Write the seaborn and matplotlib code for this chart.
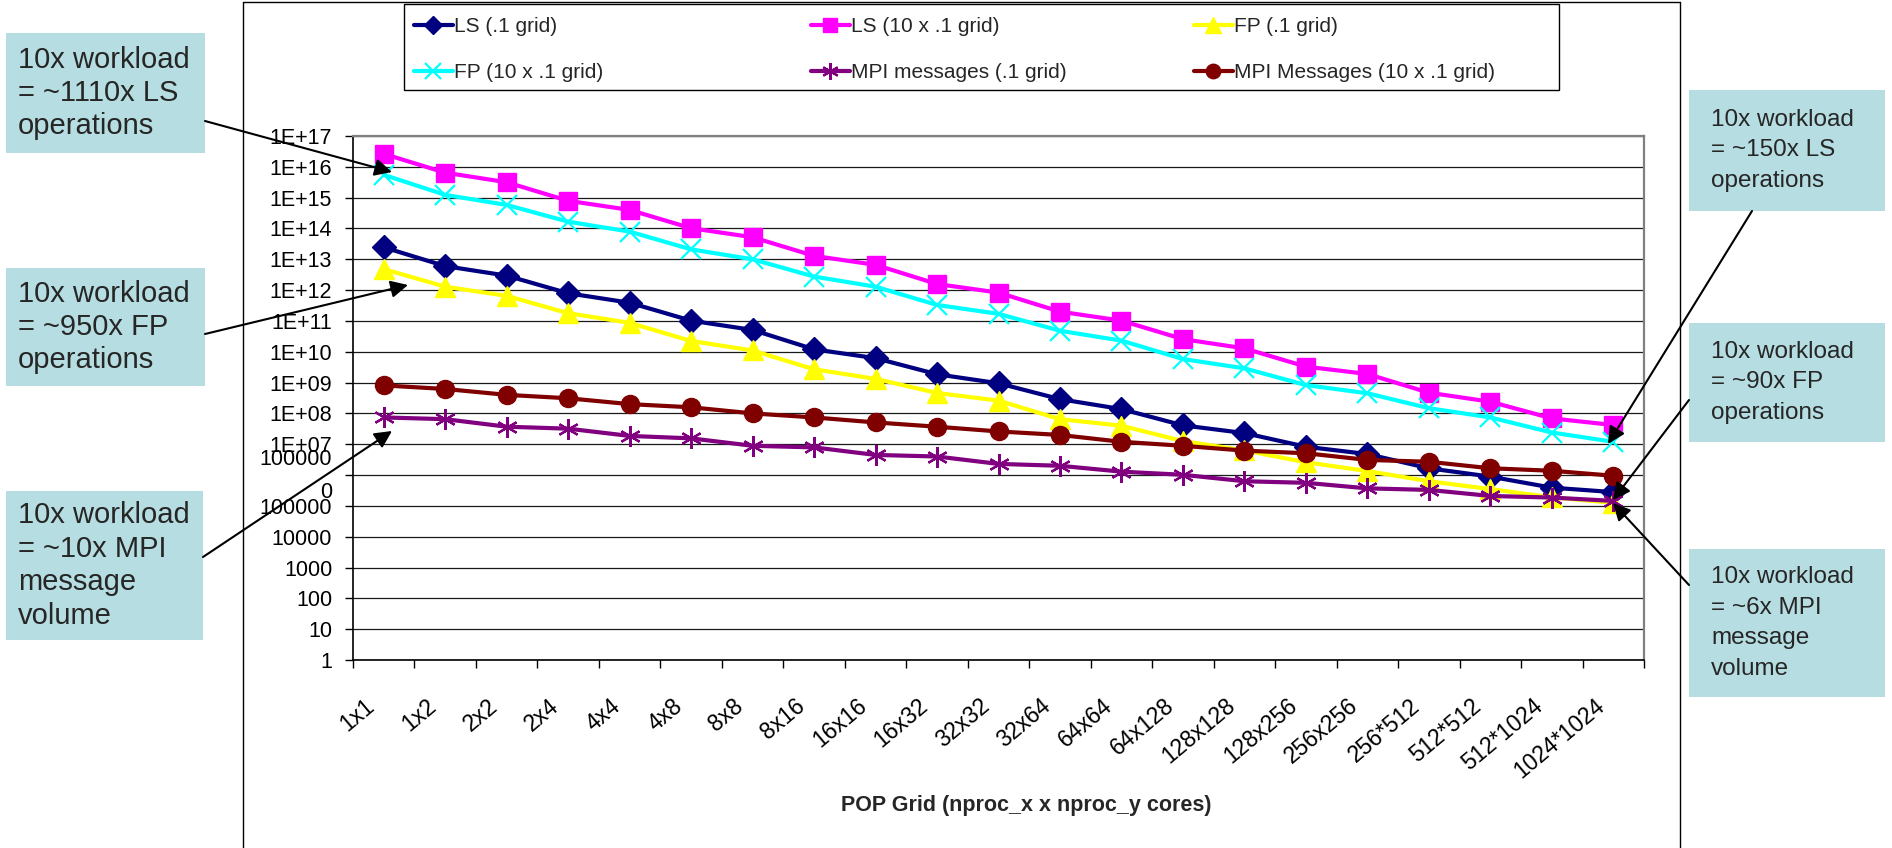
import numpy as np
import pandas as pd
import matplotlib
matplotlib.use("Agg")
import matplotlib.pyplot as plt
import matplotlib.transforms as mtransforms
from matplotlib.patches import Rectangle, FancyArrowPatch
from matplotlib.lines import Line2D
import seaborn as sns

# POP processor grids (nproc_x x nproc_y)
grids = ["1x1", "1x2", "2x2", "2x4", "4x4", "4x8", "8x8", "8x16", "16x16",
         "16x32", "32x32", "32x64", "64x64", "64x128", "128x128", "128x256",
         "256x256", "256*512", "512*512", "512*1024", "1024*1024"]

ls_grid01 = [2.45e13, 6.0e12, 2.95e12, 7.9e11, 3.9e11, 1.02e11, 5.1e10, 1.2e10,
             6.2e9, 1.86e9, 9.5e8, 2.9e8, 1.38e8, 4.1e7, 2.3e7, 8.3e6, 4.8e6,
             1.66e6, 8.9e5, 3.9e5, 2.8e5]
ls_grid10 = [2.63e16, 6.46e15, 3.16e15, 7.9e14, 4.0e14, 1.02e14, 5.2e13, 1.29e13,
             6.6e12, 1.58e12, 8.3e11, 2.0e11, 1.02e11, 2.57e10, 1.29e10, 3.3e9,
             1.9e9, 4.7e8, 2.4e8, 6.9e7, 4.2e7]
fp_grid01 = [4.8e12, 1.29e12, 6.5e11, 1.78e11, 8.7e10, 2.24e10, 1.1e10, 2.7e9,
             1.32e9, 4.6e8, 2.6e8, 6.5e7, 4.0e7, 1.26e7, 6.3e6, 2.6e6, 1.35e6,
             6.3e5, 3.5e5, 1.9e5, 1.26e5]
fp_grid10 = [5.5e15, 1.23e15, 5.8e14, 1.66e14, 7.9e13, 2.1e13, 1.0e13, 2.75e12,
             1.29e12, 3.3e11, 1.7e11, 4.8e10, 2.3e10, 5.8e9, 2.9e9, 8.3e8, 4.5e8,
             1.48e8, 7.4e7, 2.4e7, 1.2e7]
mpi_grid01 = [7.4e7, 6.5e7, 3.7e7, 3.2e7, 1.86e7, 1.55e7, 8.9e6, 7.9e6, 4.5e6,
              4.0e6, 2.3e6, 2.0e6, 1.29e6, 1.02e6, 6.3e5, 5.6e5, 3.7e5, 3.3e5,
              2.1e5, 1.86e5, 1.45e5]
mpi_grid10 = [8.1e8, 6.2e8, 4.0e8, 3.1e8, 2.0e8, 1.58e8, 1.0e8, 7.4e7, 5.1e7,
              3.7e7, 2.6e7, 2.0e7, 1.2e7, 8.9e6, 6.2e6, 5.1e6, 3.1e6, 2.7e6,
              1.66e6, 1.38e6, 9.5e5]

series_names = ["LS (.1 grid)", "LS (10 x .1 grid)", "FP (.1 grid)",
                "FP (10 x .1 grid)", "MPI messages (.1 grid)",
                "MPI Messages (10 x .1 grid)"]
series_values = [ls_grid01, ls_grid10, fp_grid01, fp_grid10, mpi_grid01, mpi_grid10]

y_tick_values = [10.0 ** k for k in range(18)]
y_tick_labels = ["1", "10", "100", "1000", "10000", "100000", "100000\n0",
                 "1E+07", "1E+08", "1E+09", "1E+10", "1E+11", "1E+12", "1E+13",
                 "1E+14", "1E+15", "1E+16", "1E+17"]

x_title = "POP Grid (nproc_x x nproc_y cores)"

callouts_left = ["10x workload\n= ~1110x LS\noperations",
                 "10x workload\n= ~950x FP\noperations",
                 "10x workload\n= ~10x MPI\nmessage\nvolume"]
callouts_right = ["10x workload\n= ~150x LS\noperations",
                  "10x workload\n= ~90x FP\noperations",
                  "10x workload\n= ~6x MPI\nmessage\nvolume"]

df = pd.DataFrame({
    "grid": grids * len(series_names),
    "value": sum(series_values, []),
    "series": np.repeat(series_names, len(grids)),
})

sns.set_theme(style="white")
plt.rcParams["font.family"] = ["Liberation Sans", "DejaVu Sans"]

W, H = 1892, 848
fig = plt.figure(figsize=(W / 100, H / 100), dpi=100)
fig.patch.set_facecolor("white")


def fx(px):
    return px / W


def fy(py):
    return 1 - py / H


ax_left, ax_right, ax_top, ax_bottom = 353, 1644, 136, 660
ax = fig.add_axes([fx(ax_left), fy(ax_bottom), (ax_right - ax_left) / W,
                   (ax_bottom - ax_top) / H])
ax.set_yscale("log")

styles = {
    "LS (.1 grid)": dict(color="#000080", marker="D", ms=12, mew=1),
    "LS (10 x .1 grid)": dict(color="#FF00FF", marker="s", ms=13, mew=1),
    "FP (.1 grid)": dict(color="#FFFF00", marker="^", ms=15, mew=1),
    "FP (10 x .1 grid)": dict(color="#00FFFF", marker="x", ms=14, mew=1.6),
    "MPI messages (.1 grid)": dict(color="#800080", marker=(6, 2, 0), ms=15, mew=1.6),
    "MPI Messages (10 x .1 grid)": dict(color="#800000", marker="o", ms=13, mew=1),
}

handles = {}
for name in series_names:
    st = styles[name]
    sub = df[df["series"] == name]
    sns.lineplot(data=sub, x="grid", y="value", ax=ax, sort=False,
                 color=st["color"], lw=3.0, marker=st["marker"],
                 markersize=st["ms"], markeredgecolor=st["color"],
                 markerfacecolor=st["color"], markeredgewidth=st["mew"],
                 legend=False)
    handles[name] = Line2D([], [], color=st["color"], lw=3.0, marker=st["marker"],
                           markersize=st["ms"] * 0.8, markeredgecolor=st["color"],
                           markerfacecolor=st["color"], markeredgewidth=st["mew"])

ax.set_xlim(-0.5, len(grids) - 0.5)
ax.set_ylim(1, 1e17)
ax.set_xlabel("")
ax.set_ylabel("")

ax.set_yticks(y_tick_values)
ax.set_yticklabels(y_tick_labels, multialignment="right")
ax.yaxis.set_minor_locator(matplotlib.ticker.NullLocator())
ax.tick_params(axis="y", which="major", direction="out", length=6, width=1,
               color="black", pad=9, labelsize=15.5, labelcolor="black", left=True)
lift = mtransforms.ScaledTranslation(0, 8 / 100, fig.dpi_scale_trans)
for lab in ax.get_yticklabels():
    if "\n" in lab.get_text():
        lab.set_linespacing(1.8)
        lab.set_transform(lab.get_transform() + lift)
ax.grid(axis="y", which="major", color="#1a1a1a", lw=0.9)
ax.grid(axis="x", visible=False)

ax.set_xticks(range(len(grids)))
ax.set_xticklabels(grids, rotation=40, ha="right", va="center",
                   rotation_mode="anchor")
ax.set_xticks(np.arange(-0.5, len(grids), 1.0), minor=True)
ax.tick_params(axis="x", which="major", length=0, pad=31, labelsize=16.5,
               labelcolor="black")
ax.tick_params(axis="x", which="minor", direction="out", length=6, width=1,
               color="black", bottom=True)
shift = mtransforms.ScaledTranslation(-12 / 100, 0, fig.dpi_scale_trans)
for lab in ax.get_xticklabels():
    lab.set_transform(lab.get_transform() + shift)

for side in ["left", "bottom"]:
    ax.spines[side].set_color("black")
    ax.spines[side].set_linewidth(1.2)
for side in ["top", "right"]:
    ax.spines[side].set_color("#808080")
    ax.spines[side].set_linewidth(1.6)
ax.set_facecolor("white")

fig.text(fx(1026), fy(806), x_title, ha="center", va="center", fontsize=15.5,
         fontweight="bold")

# Legend: three columns of two entries, inside one shared frame
legend_columns = [["LS (.1 grid)", "FP (10 x .1 grid)"],
                  ["LS (10 x .1 grid)", "MPI messages (.1 grid)"],
                  ["FP (.1 grid)", "MPI Messages (10 x .1 grid)"]]
legend_col_x = [414, 811, 1194]
for x0, names in zip(legend_col_x, legend_columns):
    fig.legend([handles[n] for n in names], names, loc="upper left",
               bbox_to_anchor=(fx(x0), fy(17)), frameon=False, fontsize=15,
               handlelength=1.85, handletextpad=0.05, labelspacing=1.3,
               borderpad=0, borderaxespad=0)
fig.add_artist(Rectangle((fx(404), fy(90)), (1559 - 404) / W, (90 - 4) / H,
                         transform=fig.transFigure, facecolor="none",
                         edgecolor="black", lw=1.0))

# Chart-area border
for (x0, y0, x1, y1) in [(243, 2, 1680, 2), (243, 2, 243, 848), (1680, 2, 1680, 848)]:
    fig.add_artist(Line2D([fx(x0), fx(x1)], [fy(y0), fy(y1)],
                          transform=fig.transFigure, color="black", lw=1.0))

box_color = "#B6DDE1"


def callout(x0, y0, x1, y1, text, pad, size, spacing):
    fig.add_artist(Rectangle((fx(x0), fy(y1)), (x1 - x0) / W, (y1 - y0) / H,
                             transform=fig.transFigure, facecolor=box_color,
                             edgecolor="none", zorder=3))
    fig.text(fx(x0 + pad), fy((y0 + y1) / 2), text, ha="left", va="center",
             fontsize=size, linespacing=spacing, zorder=4)


def arrow(xa, ya, xb, yb):
    fig.add_artist(FancyArrowPatch((fx(xa), fy(ya)), (fx(xb), fy(yb)),
                                   transform=fig.transFigure, arrowstyle="-|>",
                                   mutation_scale=26, color="black", lw=1.5,
                                   shrinkA=0, shrinkB=0, zorder=5))


left_boxes = [(6, 33, 205, 153), (6, 268, 205, 386), (6, 491, 203, 640)]
right_boxes = [(1689, 90, 1885, 211), (1689, 323, 1885, 442), (1689, 549, 1885, 697)]
for box, txt in zip(left_boxes, callouts_left):
    callout(*box, txt, pad=12, size=21, spacing=1.25)
for box, txt in zip(right_boxes, callouts_right):
    callout(*box, txt, pad=22, size=17.5, spacing=1.5)

arrow(205, 121, 392, 172)
arrow(205, 334, 408, 285)
arrow(203, 557, 392, 431)
arrow(1752, 211, 1608, 444)
arrow(1689, 400, 1613, 500)
arrow(1689, 585, 1613, 503)

fig.savefig("out.png", dpi=100, facecolor="white")
